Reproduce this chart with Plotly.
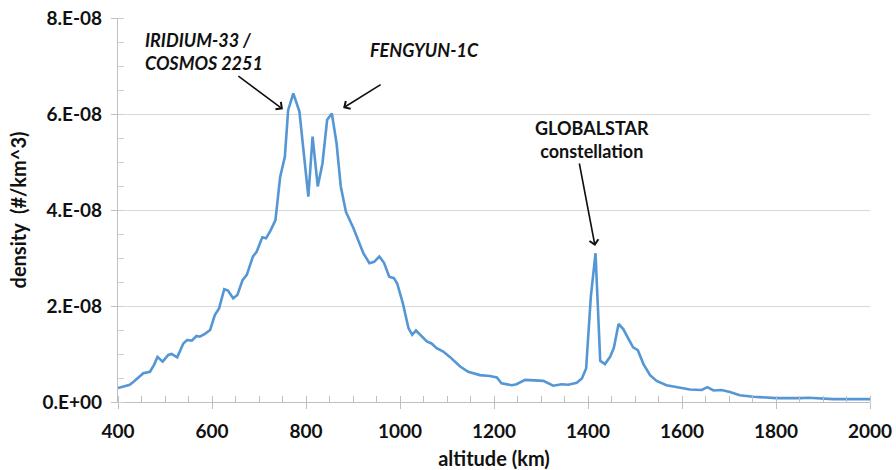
import numpy as np
import plotly.graph_objects as go

# altitude (km)
altitude = [400, 412, 425, 433, 445, 454, 468, 477, 484, 495, 507, 514, 526, 539, 547, 557, 567, 574,
            585, 596, 606, 615, 626, 634, 645, 654, 665, 674, 687, 695, 707, 715, 725, 735, 745, 755,
            762, 773, 786, 796, 805, 814, 825, 835, 845, 855, 865, 874, 885, 901, 922, 935, 945, 956,
            966, 977, 987, 994, 1006, 1018, 1026, 1034, 1046, 1057, 1067, 1078, 1092, 1106, 1128, 1145,
            1170, 1191, 1206, 1216, 1238, 1248, 1266, 1284, 1305, 1326, 1344, 1358, 1376, 1387, 1396,
            1406, 1416, 1426, 1436, 1447, 1455, 1465, 1475, 1487, 1496, 1506, 1518, 1532, 1546, 1567,
            1596, 1617, 1642, 1654, 1667, 1684, 1702, 1723, 1752, 1801, 1851, 1869, 1922, 2000]
# density in units of 1e-8 #/km^3
density_e8 = [0.29, 0.32, 0.36, 0.42, 0.52, 0.60, 0.63, 0.78, 0.94, 0.84, 0.98, 1.00, 0.93, 1.22, 1.29,
              1.28, 1.375, 1.36, 1.42, 1.50, 1.81, 1.95, 2.35, 2.32, 2.16, 2.23, 2.54, 2.65, 3.03, 3.13,
              3.43, 3.41, 3.58, 3.79, 4.69, 5.11, 6.08, 6.43, 6.05, 5.18, 4.28, 5.53, 4.49, 4.97, 5.88,
              6.01, 5.39, 4.49, 3.96, 3.62, 3.10, 2.89, 2.92, 3.03, 2.90, 2.61, 2.58, 2.47, 2.06, 1.54,
              1.40, 1.49, 1.36, 1.26, 1.22, 1.12, 1.05, 0.94, 0.74, 0.63, 0.56, 0.54, 0.51, 0.39, 0.35,
              0.37, 0.46, 0.45, 0.44, 0.34, 0.37, 0.36, 0.40, 0.49, 0.70, 2.19, 3.10, 0.86, 0.79, 0.94,
              1.13, 1.625, 1.52, 1.30, 1.14, 1.08, 0.79, 0.56, 0.44, 0.35, 0.29, 0.26, 0.25, 0.31, 0.24,
              0.25, 0.21, 0.14, 0.11, 0.08, 0.08, 0.09, 0.06, 0.06]

y_tickvals = [0, 2e-8, 4e-8, 6e-8, 8e-8]
y_ticktext = ["0.E+00", "2.E-08", "4.E-08", "6.E-08", "8.E-08"]
x_tickvals = [400, 600, 800, 1000, 1200, 1400, 1600, 1800, 2000]

density = np.array(density_e8) * 1e-8

FONT = "Lato"
fig = go.Figure()
fig.add_trace(go.Scatter(x=altitude, y=density, mode="lines",
                         line=dict(color="#5596d4", width=2.6), hoverinfo="skip"))

ann_font = dict(family=FONT, size=18, color="#111111", weight="bold")
arrow = dict(showarrow=True, arrowhead=4, arrowsize=1.1, arrowwidth=1.6, arrowcolor="#111111",
             axref="x", ayref="y", standoff=0)
# arrows: tip (x, y) and tail (ax, ay)
fig.add_annotation(x=751, y=6.10e-8, ax=653, ay=6.81e-8, text="", **arrow)
fig.add_annotation(x=879, y=6.125e-8, ax=962, ay=6.63e-8, text="", **arrow)
fig.add_annotation(x=1415, y=3.25e-8, ax=1381, ay=5.0e-8, text="", **arrow)

fig.add_annotation(x=453, y=7.31e-8, text="<i>IRIDIUM-33 /</i><br><i>COSMOS 2251</i>",
                   showarrow=False, xanchor="left", yanchor="middle", align="left", font=ann_font)
fig.add_annotation(x=1053, y=7.33e-8, text="<i>FENGYUN-1C</i>",
                   showarrow=False, xanchor="center", yanchor="middle", font=ann_font)
fig.add_annotation(x=1409, y=5.46e-8, text="GLOBALSTAR<br>constellation",
                   showarrow=False, xanchor="center", yanchor="middle", align="center", font=ann_font)

tickfont = dict(family=FONT, size=19, color="#111111", weight="bold")
titlefont = dict(family=FONT, size=20, color="#111111", weight="bold")
fig.update_layout(
    width=896, height=470,
    margin=dict(l=118, r=26, t=18, b=68, autoexpand=False),
    paper_bgcolor="white", plot_bgcolor="white",
    showlegend=False,
    xaxis=dict(range=[400, 2000], tickvals=x_tickvals, tickfont=tickfont, automargin=False,
               showgrid=False, zeroline=False, showline=True, linecolor="#bfbfbf", linewidth=1.2,
               ticks="outside", ticklen=6, tickcolor="#bfbfbf", ticklabelstandoff=6,
               minor=dict(ticks="inside", dtick=50, ticklen=6, tickcolor="#bfbfbf", showgrid=False),
               title=dict(text="altitude (km)", font=titlefont, standoff=14)),
    yaxis=dict(range=[0, 8e-8], tickvals=y_tickvals, ticktext=y_ticktext, tickfont=tickfont,
               automargin=False,
               showgrid=True, gridcolor="#d9d9d9", gridwidth=1.2, zeroline=False,
               showline=True, linecolor="#bfbfbf", linewidth=1.2,
               ticks="outside", ticklen=6, tickcolor="#bfbfbf", ticklabelstandoff=5,
               minor=dict(ticks="inside", tickvals=[i * 0.5e-8 for i in range(17)], ticklen=6,
                          tickcolor="#d0d0d0", showgrid=False),
               title=dict(text="density&nbsp;&nbsp;(#/km^3)", font=titlefont, standoff=10)),
)
fig.write_html("out.html")
